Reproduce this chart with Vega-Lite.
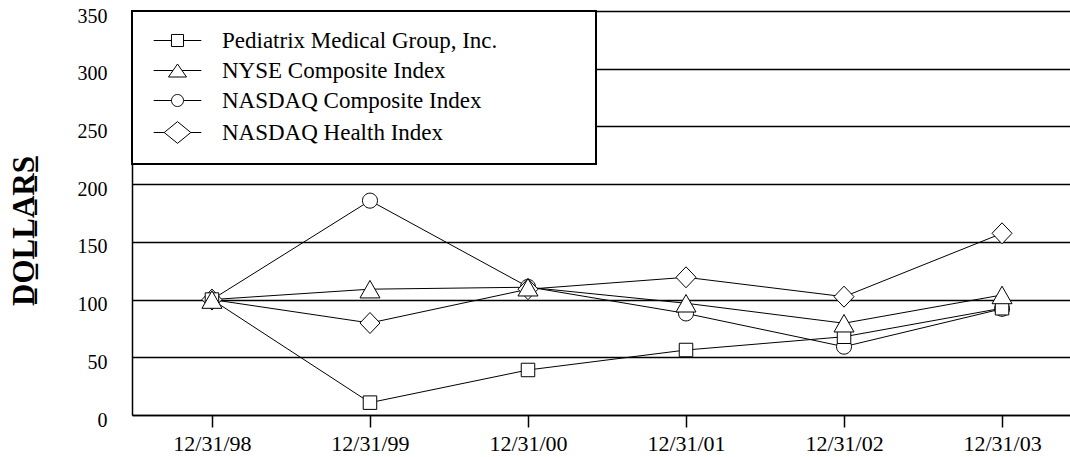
{
  "$schema": "https://vega.github.io/schema/vega-lite/v6.json",
  "width": 950,
  "height": 404,
  "autosize": {"type": "none"},
  "padding": {"left": 132, "top": 11, "right": 0, "bottom": 42},
  "background": "white",
  "config": {"view": {"stroke": null}, "font": "Liberation Serif", "legend": {"strokeWidth": 2}},
  "data": {
    "values": [
      {"series": "NASDAQ Composite Index", "date": "1998-12-31", "value": 100},
      {"series": "NASDAQ Composite Index", "date": "1999-12-31", "value": 185.7},
      {"series": "NASDAQ Composite Index", "date": "2000-12-31", "value": 111},
      {"series": "NASDAQ Composite Index", "date": "2001-12-31", "value": 88},
      {"series": "NASDAQ Composite Index", "date": "2002-12-31", "value": 59.2},
      {"series": "NASDAQ Composite Index", "date": "2003-12-31", "value": 92},
      {"series": "NASDAQ Health Index", "date": "1998-12-31", "value": 100},
      {"series": "NASDAQ Health Index", "date": "1999-12-31", "value": 79.7},
      {"series": "NASDAQ Health Index", "date": "2000-12-31", "value": 109},
      {"series": "NASDAQ Health Index", "date": "2001-12-31", "value": 119.3},
      {"series": "NASDAQ Health Index", "date": "2002-12-31", "value": 102.5},
      {"series": "NASDAQ Health Index", "date": "2003-12-31", "value": 157.4},
      {"series": "Pediatrix Medical Group, Inc.", "date": "1998-12-31", "value": 100},
      {"series": "Pediatrix Medical Group, Inc.", "date": "1999-12-31", "value": 10.7},
      {"series": "Pediatrix Medical Group, Inc.", "date": "2000-12-31", "value": 39},
      {"series": "Pediatrix Medical Group, Inc.", "date": "2001-12-31", "value": 56.3},
      {"series": "Pediatrix Medical Group, Inc.", "date": "2002-12-31", "value": 67.8},
      {"series": "Pediatrix Medical Group, Inc.", "date": "2003-12-31", "value": 92.5},
      {"series": "NYSE Composite Index", "date": "1998-12-31", "value": 100},
      {"series": "NYSE Composite Index", "date": "1999-12-31", "value": 109},
      {"series": "NYSE Composite Index", "date": "2000-12-31", "value": 110.7},
      {"series": "NYSE Composite Index", "date": "2001-12-31", "value": 96.8},
      {"series": "NYSE Composite Index", "date": "2002-12-31", "value": 79.5},
      {"series": "NYSE Composite Index", "date": "2003-12-31", "value": 104}
    ]
  },
  "encoding": {
    "x": {
      "field": "date",
      "type": "ordinal",
      "scale": {"type": "point", "padding": 0.506},
      "axis": {
        "title": null,
        "labelAngle": 0,
        "labelExpr": "slice(datum.value,5,7)+'/'+slice(datum.value,8,10)+'/'+slice(datum.value,2,4)",
        "labelFont": "Liberation Serif",
        "labelFontSize": 22,
        "labelColor": "black",
        "labelPadding": 6,
        "tickSize": 12,
        "tickWidth": 1.5,
        "tickColor": "black",
        "domainColor": "black",
        "domainWidth": 1.5,
        "grid": false
      }
    },
    "y": {
      "field": "value",
      "type": "quantitative",
      "scale": {"domain": [0, 350], "nice": false},
      "axis": {
        "values": [0, 50, 100, 150, 200, 250, 300, 350],
        "grid": true,
        "gridColor": "black",
        "gridWidth": 1.5,
        "gridOpacity": 1,
        "ticks": false,
        "tickSize": 0,
        "labelPadding": 25,
        "labelFont": "Liberation Serif",
        "labelFontSize": 20,
        "labelColor": "black",
        "labelOffset": 5,
        "domainColor": "black",
        "domainWidth": 1.5,
        "title": "D\u0332O\u0332L\u0332L\u0332A\u0332R\u0332S\u0332",
        "titleFont": "Liberation Serif",
        "titleFontWeight": "bold",
        "titleFontSize": 31,
        "titleColor": "black",
        "titleAngle": 270,
        "titleAlign": "center",
        "titleBaseline": "alphabetic",
        "titleX": -99,
        "titleY": 219.5
      }
    }
  },
  "layer": [
    {
      "mark": {"type": "line", "color": "black", "strokeWidth": 1},
      "encoding": {"detail": {"field": "series"}}
    },
    {
      "mark": {"type": "point", "filled": true, "fill": "white", "stroke": "black", "strokeWidth": 1, "size": 100, "opacity": 1},
      "encoding": {
        "shape": {
          "field": "series",
          "type": "nominal",
          "scale": {
            "domain": ["Pediatrix Medical Group, Inc.", "NYSE Composite Index", "NASDAQ Composite Index", "NASDAQ Health Index"],
            "range": [
              "M-1.35,-1.35H1.35V1.35H-1.35Z",
              "M0,-1.75L2,1.75L-2,1.75Z",
              "M-1.5,0A1.5,1.5 0 1,0 1.5,0A1.5,1.5 0 1,0 -1.5,0Z",
              "M0,-2.1L2,0L0,2.1L-2,0Z"
            ]
          },
          "legend": null
        }
      }
    },
    {
      "transform": [{"filter": "datum.value < 0"}],
      "mark": {"type": "point", "filled": false, "fill": "white", "stroke": "black", "color": "black", "strokeWidth": 1, "size": 196, "opacity": 1},
      "encoding": {
        "shape": {
          "field": "series",
          "type": "nominal",
          "scale": {
            "domain": ["Pediatrix Medical Group, Inc.", "NYSE Composite Index", "NASDAQ Composite Index", "NASDAQ Health Index"],
            "range": [
              "M-3.4,0H-0.86M0.86,0H3.4M-0.86,-0.86H0.86V0.86H-0.86Z",
              "M-3.4,0H-0.65M0.65,0H3.4M0,-0.93L1.29,0.93H-1.29Z",
              "M-3.4,0H-0.86M0.86,0H3.4M-0.86,0A0.86,0.86 0 1,0 0.86,0A0.86,0.86 0 1,0 -0.86,0Z",
              "M-3.4,0H-1.9M1.9,0H3.4M0,-1.55L1.9,0L0,1.55L-1.9,0Z"
            ]
          },
          "legend": {
            "title": null,
            "orient": "none",
            "legendX": 0,
            "legendY": 0,
            "zindex": 1,
            "fillColor": "white",
            "strokeColor": "black",
            "padding": 18,
            "labelFont": "Liberation Serif",
            "labelFontSize": 23,
            "labelColor": "black",
            "labelLimit": 1000,
            "labelOffset": 33,
            "labelExpr": "datum.label + '\u00a0\u00a0\u00a0\u00a0\u00a0\u00a0\u00a0\u00a0\u00a0\u00a0\u00a0\u00a0\u00a0\u00a0\u200b'",
            "symbolOffset": 16,
            "rowPadding": 6,
            "symbolSize": 196,
            "symbolStrokeWidth": 1,
            "encode": {
              "symbols": {
                "stroke": {"value": "black"},
                "fill": {"value": "white"},
                "strokeWidth": {"value": 1},
                "size": {"value": 196},
                "opacity": {"value": 1}
              }
            }
          }
        }
      }
    }
  ],
  "resolve": {"scale": {"shape": "independent"}}
}
